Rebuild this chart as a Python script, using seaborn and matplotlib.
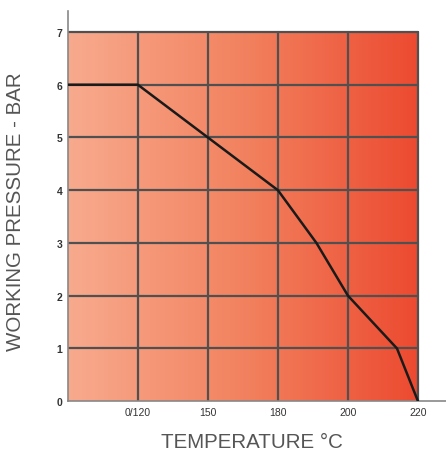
import numpy as np
import pandas as pd
import seaborn as sns
import matplotlib.pyplot as plt
from matplotlib.colors import LinearSegmentedColormap
from matplotlib import font_manager

# data
temperature = [0, 120, 150, 180, 191, 200, 214, 220]
pressure = [6, 6, 5, 4, 3, 2, 1, 0]
axis_temps = [0, 120, 150, 180, 200, 220]  # broken scale, evenly spaced
tick_labels = ['', '0/120', '150', '180', '200', '220']
y_ticks = [0, 1, 2, 3, 4, 5, 6, 7]

pos = np.arange(len(axis_temps))
df = pd.DataFrame({'x': np.interp(temperature, axis_temps, pos), 'p': pressure})

sns.set_style('white')
names = {f.name for f in font_manager.fontManager.ttflist}
narrow = 'Liberation Sans Narrow' if 'Liberation Sans Narrow' in names else 'Liberation Sans'

fig = plt.figure(figsize=(4.46, 4.56), dpi=100)
ax = fig.add_axes([0.152, 0.118, 0.848, 0.856])

# gradient background
cmap = LinearSegmentedColormap.from_list('heat', ['#f8aa8e', '#f2825f', '#ec4a30'])
grad = np.linspace(0, 1, 256).reshape(1, -1)
ax.imshow(grad, cmap=cmap, aspect='auto', extent=[pos[0], pos[-1], 0, 7], zorder=0)

# grid
for xv in pos[1:]:
    ax.plot([xv, xv], [0, 7], color='#505050', lw=1.6, zorder=1)
for yv in y_ticks[1:]:
    ax.plot([pos[0], pos[-1]], [yv, yv], color='#505050', lw=1.6, zorder=1)

sns.lineplot(data=df, x='x', y='p', color='#1a1a1a', lw=1.8, ax=ax, zorder=3, sort=False)

ax.set_xlim(0, 5.4)
ax.set_ylim(0, 7.4)
ax.set_xticks(pos)
ax.set_xticklabels(tick_labels, fontsize=7.5, color='#333333', family='Liberation Sans')
ax.set_yticks(y_ticks)
ax.set_yticklabels([str(v) for v in y_ticks], fontsize=7.5, color='#333333',
                   fontweight='bold', family='Liberation Sans')
ax.tick_params(axis='both', length=0, pad=4)
ax.set_xlabel('')
ax.set_ylabel('')
fig.text(252 / 446, 1 - 443 / 456, 'TEMPERATURE \u00b0C', fontsize=14.8, color='#555555',
         ha='center', va='center', family=[narrow, 'DejaVu Sans'])
fig.text(16 / 446, 1 - 212 / 456, 'WORKING PRESSURE - BAR', fontsize=14.8, color='#555555',
         ha='center', va='center', rotation=90, family=[narrow, 'DejaVu Sans'])

for s in ['top', 'right']:
    ax.spines[s].set_visible(False)
for s in ['left', 'bottom']:
    ax.spines[s].set_color('#888888')
    ax.spines[s].set_linewidth(1.2)

fig.savefig('out.png', dpi=100)
